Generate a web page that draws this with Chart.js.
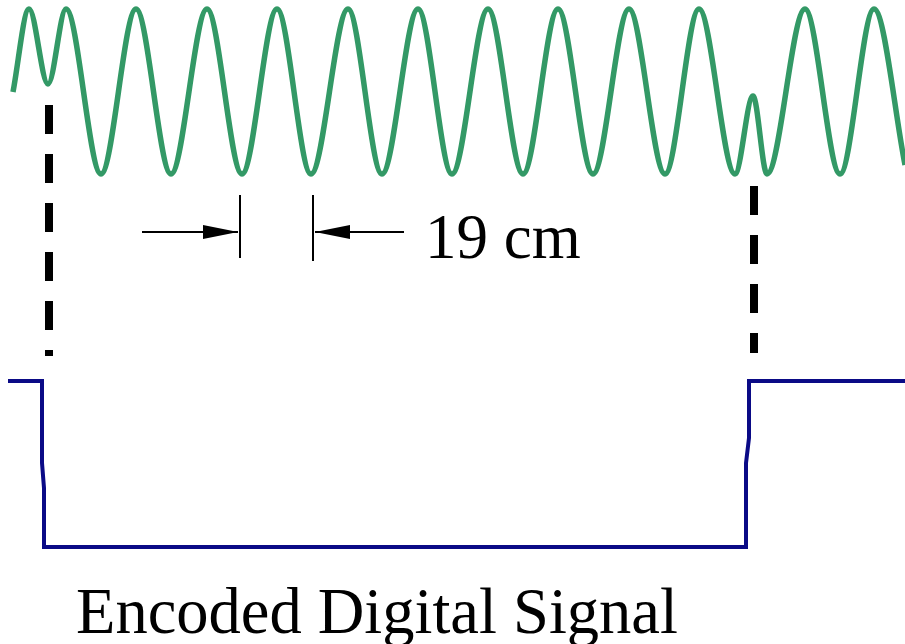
<!DOCTYPE html>
<html>
<head>
<meta charset="utf-8">
<title>Encoded Digital Signal</title>
<script src="https://cdn.jsdelivr.net/npm/chart.js@4/dist/chart.umd.min.js"></script>
<style>
  html, body { margin: 0; padding: 0; background: #ffffff; }
  #chart { display: block; }
</style>
</head>
<body>
<canvas id="chart" width="905" height="644"></canvas>
<script>
// ── Data (picture units: x to the right, y downward) ──────────────────
// Carrier wave: peaks and troughs
const waveX = [13, 29, 48, 66, 101, 136, 171, 207, 242, 277, 311, 348, 382, 418,
               452, 488, 523, 558, 593, 629, 665, 699, 735, 753, 767, 805, 840, 874, 905];
const waveY = [92, 9, 84, 9, 174, 9, 174, 9, 174, 9, 174, 9, 174, 9,
               174, 9, 174, 9, 174, 9, 174, 9, 174, 96, 174, 9, 174, 9, 165];

// Digital signal (high / low levels with the two edges)
const digitalX = [8, 42, 42, 44, 44, 746, 746, 749, 749, 905];
const digitalY = [381, 381, 463, 488, 547, 547, 463, 438, 381, 381];

// Dashed markers at the phase jumps
const markerX    = [49, 754];
const markerTopY = [105, 186];
const markerBotY = [356, 353];

// Wavelength dimension: two ticks and two arrows
const tickX    = [240, 313];
const tickTopY = [195, 195];
const tickBotY = [258, 261];
const arrowY   = 232;
const arrows   = [
  { from: 142, to: 238 },   // pointing right
  { from: 404, to: 315 },   // pointing left
];

const labels = [
  { text: '19 cm', x: 425, y: 258, size: 63 },
  { text: 'Encoded Digital Signal', x: 76, y: 633, size: 64.5 },
];

// ── Colours ───────────────────────────────────────────────────────────
const GREEN = '#339966';
const NAVY  = '#0a0a86';
const BLACK = '#000000';

const toPoints = (xs, ys) => xs.map((x, i) => ({ x, y: ys[i] }));

// ── Datasets ──────────────────────────────────────────────────────────
const datasets = [
  {
    label: 'carrier',
    data: toPoints(waveX, waveY),
    borderColor: GREEN,
    borderWidth: 5.5,
    cubicInterpolationMode: 'monotone',
    pointRadius: 0,
  },
  {
    label: 'digital',
    data: toPoints(digitalX, digitalY),
    borderColor: NAVY,
    borderWidth: 4,
    borderJoinStyle: 'miter',
    pointRadius: 0,
    tension: 0,
  },
];

markerX.forEach((x, i) => {
  datasets.push({
    label: 'marker' + i,
    data: [{ x, y: markerTopY[i] }, { x, y: markerBotY[i] }],
    borderColor: BLACK,
    borderWidth: 8,
    borderDash: [29, 20],
    borderCapStyle: 'butt',
    pointRadius: 0,
  });
});

tickX.forEach((x, i) => {
  datasets.push({
    label: 'tick' + i,
    data: [{ x, y: tickTopY[i] }, { x, y: tickBotY[i] }],
    borderColor: BLACK,
    borderWidth: 2,
    pointRadius: 0,
  });
});

arrows.forEach((a, i) => {
  datasets.push({
    label: 'arrow' + i,
    data: [{ x: a.from, y: arrowY }, { x: a.to, y: arrowY }],
    borderColor: BLACK,
    borderWidth: 2,
    pointRadius: 0,
  });
});

// ── Arrowheads + labels (drawn through the scales) ────────────────────
const annotationPlugin = {
  id: 'annotations',
  afterDatasetsDraw(chart) {
    const { ctx, scales: { x, y } } = chart;
    ctx.save();
    ctx.fillStyle = BLACK;

    arrows.forEach(a => {
      const dir  = a.to > a.from ? 1 : -1;
      const tipX = x.getPixelForValue(a.to);
      const baseX = x.getPixelForValue(a.to - dir * 35);
      const cy = y.getPixelForValue(arrowY);
      const half = Math.abs(y.getPixelForValue(arrowY + 7) - cy);
      ctx.beginPath();
      ctx.moveTo(tipX, cy);
      ctx.lineTo(baseX, cy - half);
      ctx.lineTo(baseX, cy + half);
      ctx.closePath();
      ctx.fill();
    });

    ctx.textBaseline = 'alphabetic';
    ctx.textAlign = 'left';
    labels.forEach(l => {
      ctx.font = l.size + 'px "Liberation Serif", "DejaVu Serif", serif';
      ctx.fillText(l.text, x.getPixelForValue(l.x), y.getPixelForValue(l.y));
    });
    ctx.restore();
  },
};

// ── Chart ─────────────────────────────────────────────────────────────
new Chart(document.getElementById('chart'), {
  type: 'line',
  data: { datasets },
  options: {
    responsive: false,
    animation: false,
    layout: { padding: 0 },
    plugins: {
      legend: { display: false },
      tooltip: { enabled: false },
    },
    scales: {
      x: { type: 'linear', min: 0, max: 905, display: false },
      y: { type: 'linear', min: 0, max: 644, reverse: true, display: false },
    },
  },
  plugins: [annotationPlugin],
});
</script>
</body>
</html>
